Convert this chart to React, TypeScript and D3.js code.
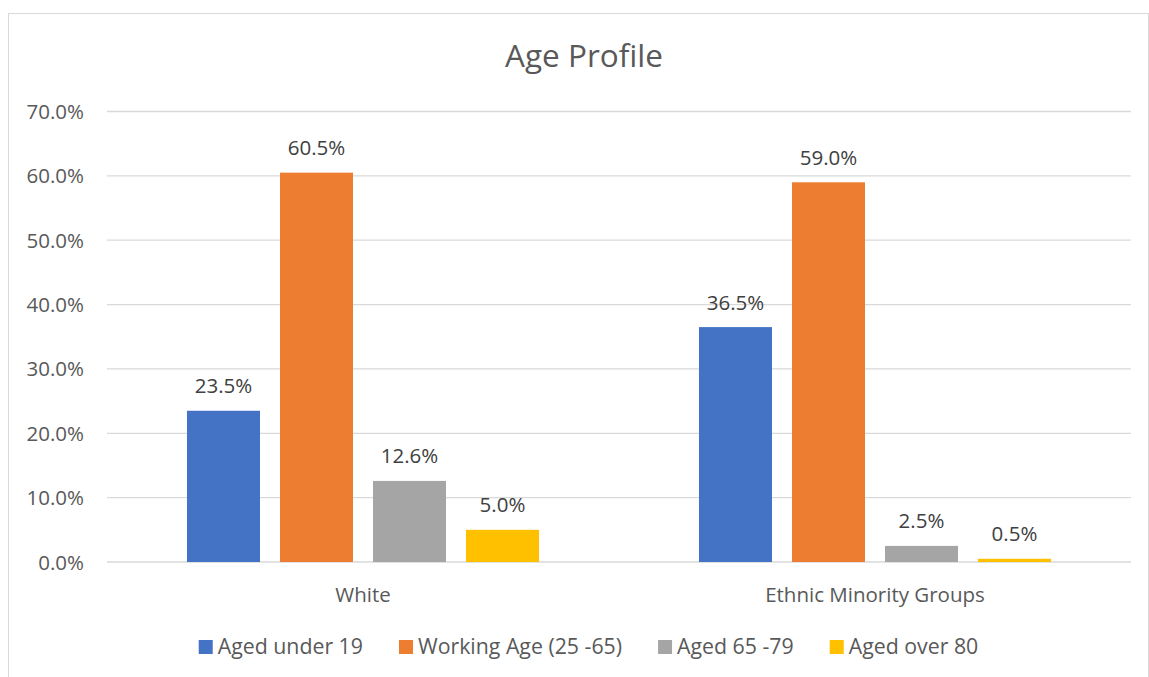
import React, { useEffect, useRef } from 'react';
import * as d3 from 'd3';

const categories = ['White', 'Ethnic Minority Groups'];
const seriesNames = ['Aged under 19', 'Working Age (25 -65)', 'Aged 65 -79', 'Aged over 80'];
const seriesColors = ['#4472C4', '#ED7D31', '#A5A5A5', '#FFC000'];
// values in percent, one array per series, in category order
const agedUnder19 = [23.5, 36.5];
const workingAge = [60.5, 59.0];
const aged65to79 = [12.6, 2.5];
const agedOver80 = [5.0, 0.5];
const yTicks = [0, 10, 20, 30, 40, 50, 60, 70];

const W = 1149;
const H = 677;

const App = () => {
  const svgRef = useRef<SVGSVGElement>(null);

  useEffect(() => {
    const series = [agedUnder19, workingAge, aged65to79, agedOver80];
    const font = "'Open Sans', sans-serif";
    const textColor = '#595959';
    const fs = 20.5;
    const margin = { top: 111.5, right: 18, bottom: 115, left: 107 };

    const svg = d3.select(svgRef.current);
    svg.selectAll('*').remove();

    // chart frame
    svg.append('rect')
      .attr('x', 8.5).attr('y', 13.5)
      .attr('width', W - 9).attr('height', H)
      .attr('fill', '#fff').attr('stroke', '#D9D9D9');

    svg.append('text')
      .attr('x', 584).attr('y', 67)
      .attr('text-anchor', 'middle')
      .attr('font-family', font).attr('font-size', 31.5)
      .attr('fill', textColor)
      .text('Age Profile');

    const x0 = d3.scaleBand()
      .domain(categories)
      .range([margin.left, W - margin.right])
      .paddingInner(0).paddingOuter(0);

    const x1 = d3.scaleBand()
      .domain(seriesNames)
      .range([0, x0.bandwidth()])
      .paddingInner(0.215)
      .paddingOuter(0.86);

    const y = d3.scaleLinear()
      .domain([0, 70])
      .range([H - margin.bottom, margin.top]);

    const g = svg.append('g');

    // gridlines
    g.selectAll('line.grid')
      .data(yTicks)
      .enter()
      .append('line')
      .attr('class', 'grid')
      .attr('x1', margin.left).attr('x2', W - margin.right)
      .attr('y1', d => y(d)).attr('y2', d => y(d))
      .attr('stroke', '#D9D9D9').attr('stroke-width', 1.3);

    // tick labels
    g.selectAll('text.tick')
      .data(yTicks)
      .enter()
      .append('text')
      .attr('class', 'tick')
      .attr('x', 84)
      .attr('y', d => y(d) + 7.5)
      .attr('text-anchor', 'end')
      .attr('font-family', font).attr('font-size', fs)
      .attr('fill', textColor)
      .text(d => d.toFixed(1) + '%');

    // bars
    const bars = [];
    categories.forEach((c, ci) => {
      seriesNames.forEach((s, si) => {
        bars.push({ c, s, v: series[si][ci], color: seriesColors[si] });
      });
    });

    g.selectAll('rect.bar')
      .data(bars)
      .enter()
      .append('rect')
      .attr('class', 'bar')
      .attr('x', d => x0(d.c) + x1(d.s))
      .attr('y', d => y(d.v))
      .attr('width', x1.bandwidth())
      .attr('height', d => y(0) - y(d.v))
      .attr('fill', d => d.color);

    g.selectAll('text.value')
      .data(bars)
      .enter()
      .append('text')
      .attr('class', 'value')
      .attr('x', d => x0(d.c) + x1(d.s) + x1.bandwidth() / 2)
      .attr('y', d => y(d.v) - 17.5)
      .attr('text-anchor', 'middle')
      .attr('font-family', font).attr('font-size', fs)
      .attr('fill', '#404040')
      .text(d => d.v.toFixed(1) + '%');

    // category labels
    g.selectAll('text.cat')
      .data(categories)
      .enter()
      .append('text')
      .attr('class', 'cat')
      .attr('x', d => x0(d) + x0.bandwidth() / 2)
      .attr('y', y(0) + 39.5)
      .attr('text-anchor', 'middle')
      .attr('font-family', font).attr('font-size', fs)
      .attr('fill', textColor)
      .text(d => d);

    // legend
    const legend = svg.append('g');
    const items = legend.selectAll('g.item')
      .data(seriesNames)
      .enter()
      .append('g')
      .attr('class', 'item');
    items.append('rect')
      .attr('width', 14).attr('height', 14)
      .attr('y', 640)
      .attr('fill', (d, i) => seriesColors[i]);
    const labels = items.append('text')
      .attr('x', 19)
      .attr('y', 654)
      .attr('font-family', font).attr('font-size', 21.3)
      .attr('fill', textColor)
      .text(d => d);
    const widths = labels.nodes().map(n => (n as SVGTextElement).getComputedTextLength());
    const gap = 36;
    const total = d3.sum(widths) + widths.length * 19 + gap * (widths.length - 1);
    let cx = 588.5 - total / 2;
    items.each(function (d, i) {
      d3.select(this).attr('transform', `translate(${cx},0)`);
      cx += 19 + widths[i] + gap;
    });
  }, []);

  return (
    <svg
      ref={svgRef}
      width={W}
      height={H}
      style={{ position: 'absolute', left: 0, top: 0, display: 'block' }}
    />
  );
};

export default App;
